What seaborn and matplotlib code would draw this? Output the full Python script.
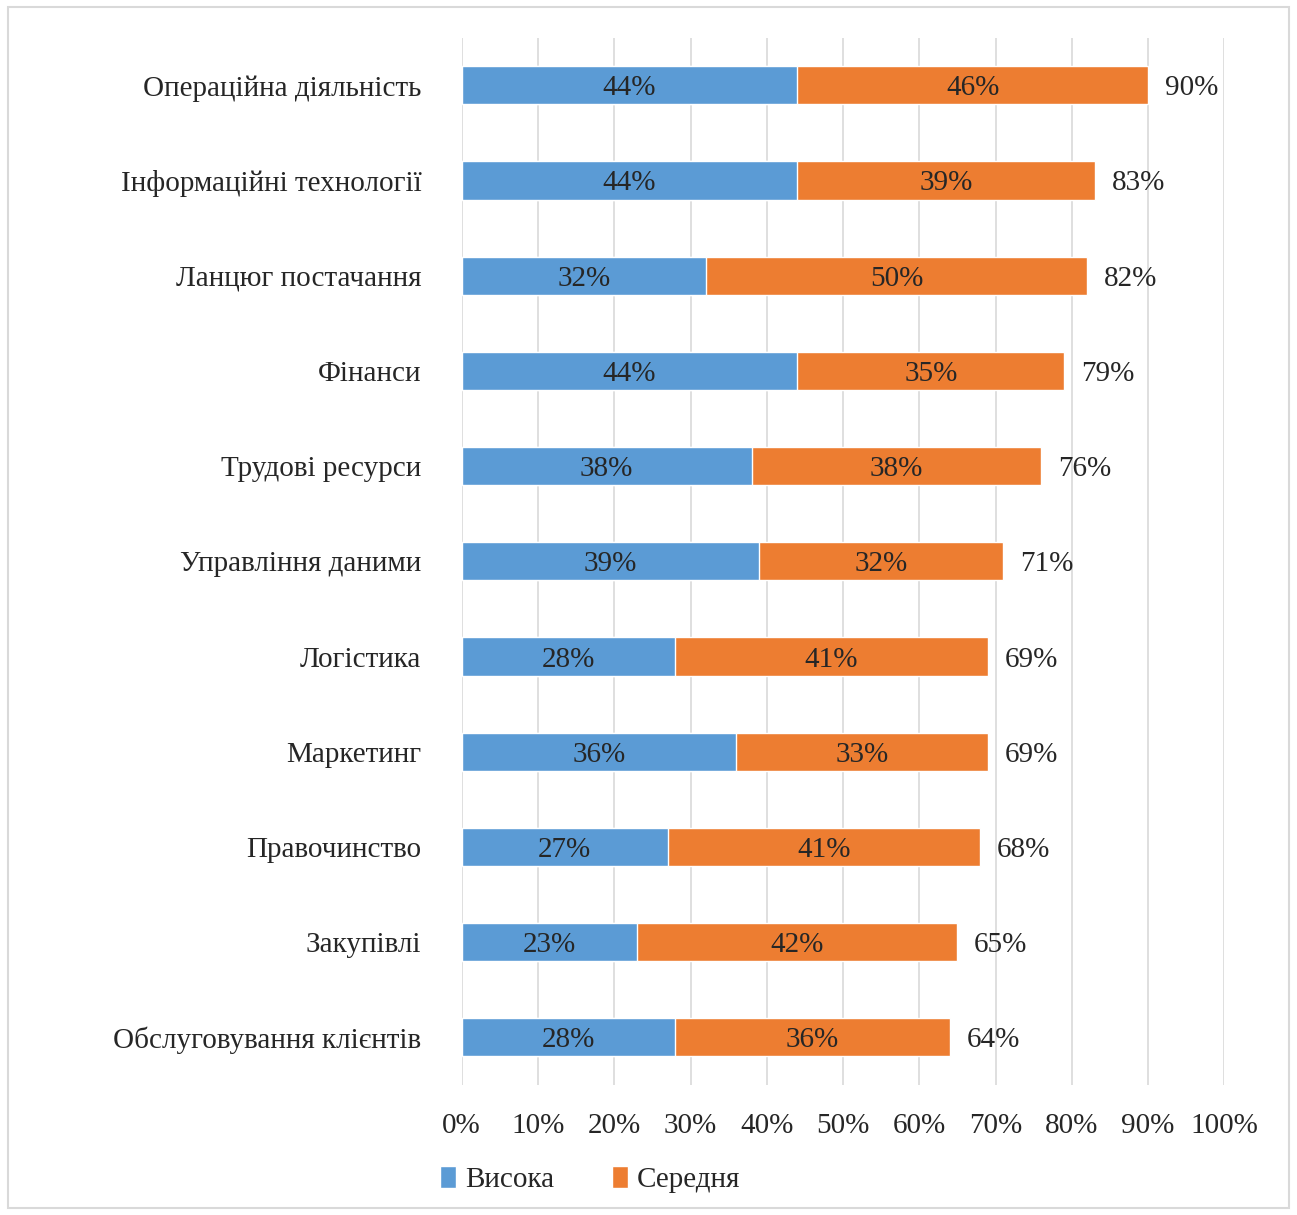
import matplotlib
matplotlib.use("Agg")
import matplotlib.pyplot as plt
import seaborn as sns
import pandas as pd
from matplotlib.patches import Rectangle, Patch

# data
categories = ["Операційна діяльність", "Інформаційні технології", "Ланцюг постачання",
              "Фінанси", "Трудові ресурси", "Управління даними", "Логістика",
              "Маркетинг", "Правочинство", "Закупівлі", "Обслуговування клієнтів"]
high = [44, 44, 32, 44, 38, 39, 28, 36, 27, 23, 28]
medium = [46, 39, 50, 35, 38, 32, 41, 33, 41, 42, 36]
total = [90, 83, 82, 79, 76, 71, 69, 69, 68, 65, 64]
x_ticks = [0, 10, 20, 30, 40, 50, 60, 70, 80, 90, 100]

BLUE = "#5B9BD5"
ORANGE = "#ED7D31"
GRID = "#D9D9D9"

sns.set_theme(style="white")
plt.rcParams["font.family"] = ["Liberation Serif", "DejaVu Serif"]

df = pd.DataFrame({"cat": categories, "high": high, "medium": medium, "total": total})
df["stack"] = df["high"] + df["medium"]

fig = plt.figure(figsize=(12.97, 12.15), dpi=100)
ax = fig.add_axes([0.356, 0.107, 0.588, 0.862])

# stacked bars: full stack in orange, high part in blue on top
sns.barplot(data=df, y="cat", x="stack", color=ORANGE, orient="h", width=0.4,
            saturation=1, ax=ax, zorder=3)
sns.barplot(data=df, y="cat", x="high", color=BLUE, orient="h", width=0.4,
            saturation=1, ax=ax, zorder=4)

fs = 21
for i, row in df.iterrows():
    ax.text(row["high"] / 2, i, f"{row['high']}%", ha="center", va="center_baseline",
            fontsize=fs, color="#262626", zorder=5)
    ax.text(row["high"] + row["medium"] / 2, i, f"{row['medium']}%", ha="center",
            va="center_baseline", fontsize=fs, color="#262626", zorder=5)
    ax.text(row["stack"] + 2.2, i, f"{row['total']}%", ha="left", va="center_baseline",
            fontsize=fs, color="#262626", zorder=5)

ax.set_xlim(0, 100)
ax.set_ylim(10.5, -0.5)
ax.set_xticks(x_ticks)
ax.set_xticklabels([f"{t}%" for t in x_ticks])
ax.xaxis.grid(True, color=GRID, linewidth=1.2, zorder=0)
ax.yaxis.grid(False)
ax.set_axisbelow(True)
for s in ax.spines.values():
    s.set_visible(False)
ax.set_xlabel("")
ax.set_ylabel("")
ax.tick_params(axis="x", length=0, pad=20, labelsize=fs, labelcolor="#262626")
ax.tick_params(axis="y", length=0, pad=29, labelsize=fs, labelcolor="#262626")
for lab in ax.get_yticklabels():
    lab.set_verticalalignment("center_baseline")

handles = [Patch(facecolor=BLUE, label="Висока"), Patch(facecolor=ORANGE, label="Середня")]
fig.legend(handles=handles, loc="center", bbox_to_anchor=(0.455, 0.029), ncol=2,
           frameon=False, fontsize=fs, handlelength=0.55, handleheight=0.8,
           handletextpad=0.3, columnspacing=2.0, labelcolor="#262626")

# outer chart frame
fig.patches.append(Rectangle((0.006, 0.006), 0.988, 0.988, transform=fig.transFigure,
                             fill=False, edgecolor=GRID, linewidth=1.5))

fig.savefig("out.png", dpi=100, facecolor="white")
